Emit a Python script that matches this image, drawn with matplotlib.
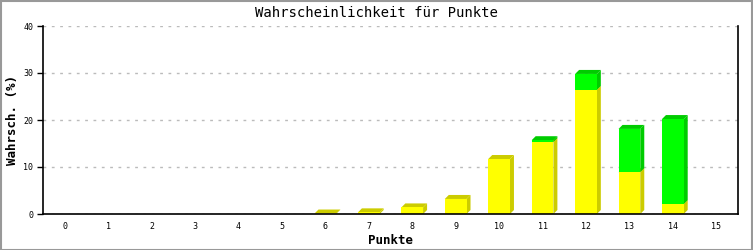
import matplotlib
matplotlib.use("Agg")
import matplotlib.pyplot as plt
from matplotlib.patches import Polygon
import numpy as np

categories = list(range(16))
yellow_vals = [0, 0, 0, 0, 0, 0, 0.1, 0.35, 1.4, 3.2, 11.7, 15.3, 26.4, 8.9, 2.1, 0]
green_vals = [0, 0, 0, 0, 0, 0, 0, 0, 0, 0, 0, 0.4, 3.4, 9.2, 18.1, 0]
y_ticks = [0, 10, 20, 30, 40]

FONT = "DejaVu Sans Mono"
fig = plt.figure(figsize=(7.53, 2.5), dpi=100)
fig.patch.set_facecolor("white")
ax = fig.add_axes([43/753, 1-214/250, (738-43)/753, (214-26)/250])
ax.set_xlim(-0.5, 15.5)
ax.set_ylim(0, 40)

x = np.array(categories, dtype=float)
yv = np.array(yellow_vals)
gv = np.array(green_vals)
w = 0.5

# 3D depth of 4 px expressed in data units via the axes transform
p0 = ax.transData.inverted().transform((0, 0))
p1 = ax.transData.inverted().transform((4, 4))
dx, dy = p1 - p0


def draw_segment(c, b, h, front, dark):
    if h <= 0:
        return
    t = b + h
    l, r = c - w / 2, c + w / 2
    side = Polygon([(r, b), (r + dx, b + dy), (r + dx, t + dy), (r, t)],
                   closed=True, facecolor=dark, edgecolor="none", zorder=2)
    top = Polygon([(l, t), (l + dx, t + dy), (r + dx, t + dy), (r, t)],
                  closed=True, facecolor=dark, edgecolor="none", zorder=2)
    ax.add_patch(side)
    ax.add_patch(top)
    ax.bar([c], [h], w, bottom=[b], color=front, linewidth=0, zorder=2)


for c, y, g in zip(x, yv, gv):
    draw_segment(c, 0, y, "#FFFF00", "#CCCC00")
    draw_segment(c, y, g, "#00FF00", "#00CC00")

ax.set_yticks(y_ticks)
ax.set_xticks(categories)
ax.set_xticklabels([str(c) for c in categories], fontsize=6, family=FONT)
ax.set_yticklabels([str(t) for t in y_ticks], fontsize=6, family=FONT)
ax.tick_params(axis="x", length=0, pad=6)
ax.tick_params(axis="y", length=4, width=1, pad=3)
ax.yaxis.grid(True, color="#BBBBBB", linestyle=(0, (2, 4)), linewidth=1)
ax.set_axisbelow(True)
for s in ["left", "bottom", "right"]:
    ax.spines[s].set_linewidth(1.2)
    ax.spines[s].set_color("black")
    ax.spines[s].set_zorder(3)
ax.spines["top"].set_visible(False)

ax.set_xlabel("Punkte", fontsize=9, family=FONT, fontweight="bold", labelpad=2)
ax.set_ylabel("Wahrsch. (%)", fontsize=9, family=FONT, fontweight="bold", labelpad=3)
fig.text(0.5, 1-13/250, "Wahrscheinlichkeit für Punkte", ha="center", va="center",
         fontsize=10, family=FONT)

border = plt.Rectangle((0.5/753, 0.5/250), 1-1.5/753, 1-1.5/250, transform=fig.transFigure,
                       fill=False, edgecolor="#999999", linewidth=1.5)
fig.patches.append(border)

fig.savefig("out.png", dpi=100)
